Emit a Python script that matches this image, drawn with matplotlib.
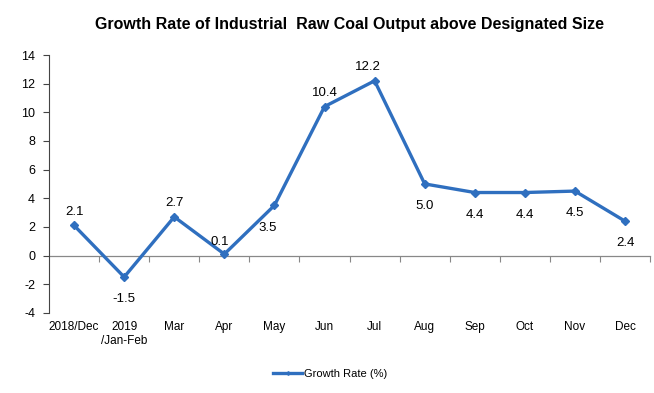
import matplotlib

matplotlib.use("Agg")
import matplotlib.pyplot as plt

plt.rcParams["font.family"] = ["Liberation Sans", "DejaVu Sans"]
plt.rcParams["axes.unicode_minus"] = False

categories = ["2018/Dec", "2019\n/Jan-Feb", "Mar", "Apr", "May", "Jun",
              "Jul", "Aug", "Sep", "Oct", "Nov", "Dec"]
growth = [2.1, -1.5, 2.7, 0.1, 3.5, 10.4, 12.2, 5.0, 4.4, 4.4, 4.5, 2.4]
# label placement: offset in points (dx, dy) for each value label
label_offsets = [(0, 10), (0, -16), (0, 10), (-3, 9), (-5, -16), (0, 10),
                 (-5, 10), (0, -16), (0, -16), (0, -16), (0, -16), (0, -16)]

color = "#2F6FBF"
x = list(range(len(categories)))

fig = plt.figure(figsize=(6.54, 3.93), dpi=100)
ax = fig.add_axes([0.075, 0.204, 0.919, 0.656])

ax.plot(x, growth, color=color, linewidth=2.4, marker="D", markersize=4.5,
        label="Growth Rate (%)", zorder=3)

for xi, v, (dx, dy) in zip(x, growth, label_offsets):
    ax.annotate(f"{v:.1f}", (xi, v), xytext=(dx, dy), textcoords="offset points",
                ha="center", va="center", fontsize=9.5)

ax.set_xlim(-0.5, len(categories) - 0.5)
ax.set_ylim(-4, 14)
ax.set_yticks(range(-4, 15, 2))
ax.tick_params(axis="y", direction="out", length=4, labelsize=9, pad=6,
               color="#444444")
ax.set_xticks(x)
ax.set_xticklabels(categories, fontsize=8.5)
ax.tick_params(axis="x", length=0, pad=6)

for side in ("top", "right", "bottom"):
    ax.spines[side].set_visible(False)
ax.spines["left"].set_color("#444444")
ax.spines["left"].set_linewidth(0.8)

# category axis drawn at zero with boundary ticks
zero_axis = ax.secondary_xaxis(0, transform=ax.transData)
zero_axis.set_xticks([i + 0.5 for i in x])
zero_axis.set_xticklabels([])
zero_axis.tick_params(direction="out", length=4, color="#888888")
zero_axis.spines["bottom"].set_color("#888888")
zero_axis.spines["bottom"].set_linewidth(0.9)

fig.text(0.535, 0.938, "Growth Rate of Industrial  Raw Coal Output above Designated Size",
         ha="center", va="center", fontsize=11.5, fontweight="bold")

fig.legend(loc="center", bbox_to_anchor=(0.505, 0.048), frameon=False,
           fontsize=8, handlelength=2.6, handletextpad=0.2, markerscale=0.4)

fig.savefig("out.png", dpi=100)
